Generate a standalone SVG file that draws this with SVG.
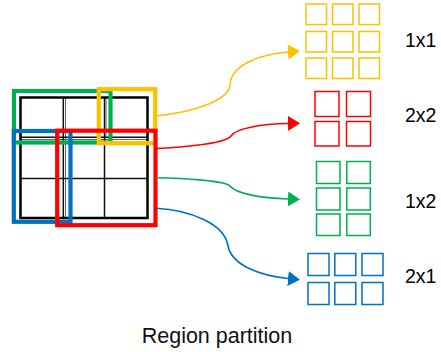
<svg xmlns="http://www.w3.org/2000/svg" width="441" height="352" viewBox="0 0 441 352">
  <style>
    .grid-outer { fill: none; stroke: #000; stroke-width: 2.5; }
    .grid-line { stroke: #111; stroke-width: 1.5; }
    .grid-ghost { stroke: #666; stroke-width: 1; }
    .win { fill: none; stroke-width: 4.2; }
    .cell { fill: #fff; stroke-width: 1.5; }
    .conn { fill: none; stroke-width: 1.6; }
    .label { font-family: "Liberation Sans", Arial, sans-serif; font-size: 19.5px; fill: #000; }
    .caption { font-family: "Liberation Sans", Arial, sans-serif; font-size: 21.5px; fill: #111; }
    .yellow { stroke: #FFC000; }
    .red { stroke: #FF0000; }
    .green { stroke: #00B050; }
    .blue { stroke: #0070C0; }
  </style>
  <defs>
    <marker id="ah-yellow" viewBox="0 0 12 15" refX="0" refY="7.5" markerUnits="userSpaceOnUse" markerWidth="12" markerHeight="15" orient="auto">
      <path d="M0,0 L12,7.5 L0,15 Z" fill="#FFC000"/>
    </marker>
    <marker id="ah-red" viewBox="0 0 12 15" refX="0" refY="7.5" markerUnits="userSpaceOnUse" markerWidth="12" markerHeight="15" orient="auto">
      <path d="M0,0 L12,7.5 L0,15 Z" fill="#FF0000"/>
    </marker>
    <marker id="ah-green" viewBox="0 0 12 15" refX="0" refY="7.5" markerUnits="userSpaceOnUse" markerWidth="12" markerHeight="15" orient="auto">
      <path d="M0,0 L12,7.5 L0,15 Z" fill="#00B050"/>
    </marker>
    <marker id="ah-blue" viewBox="0 0 12 15" refX="0" refY="7.5" markerUnits="userSpaceOnUse" markerWidth="12" markerHeight="15" orient="auto">
      <path d="M0,0 L12,7.5 L0,15 Z" fill="#0070C0"/>
    </marker>
  </defs>

  <!-- 3x3 feature map with the four pooling windows -->
  <g id="feature-map">
    <line class="grid-ghost" x1="65.5" y1="97" x2="65.5" y2="218"/>
    <line class="grid-ghost" x1="106" y1="97" x2="106" y2="137"/>
    <line class="grid-ghost" x1="20" y1="139.5" x2="148" y2="139.5"/>
    <line class="grid-line" x1="63.3" y1="97" x2="63.3" y2="218"/>
    <line class="grid-line" x1="104.5" y1="97" x2="104.5" y2="218"/>
    <line class="grid-line" x1="20" y1="137.3" x2="148" y2="137.3"/>
    <line class="grid-line" x1="20" y1="178.5" x2="148" y2="178.5"/>
    <rect class="grid-outer" x="20.5" y="97.5" width="127" height="120.5"/>
  </g>
  <g id="window-green">
    <rect class="win green" x="14" y="91" width="96.5" height="51.5"/>
  </g>
  <g id="window-yellow">
    <rect class="win yellow" x="98.8" y="89.2" width="56.4" height="54"/>
  </g>
  <g id="window-blue">
    <rect class="win blue" x="13.8" y="131" width="56.7" height="90.8"/>
  </g>
  <g id="window-red">
    <rect class="win red" x="57.2" y="130.7" width="98.3" height="94.5"/>
  </g>

  <!-- connectors -->
  <g id="connectors">
    <path class="conn yellow" d="M156,116 C195,112 230,100 230,84 C232,64 262,54 288,52" marker-end="url(#ah-yellow)"/>
    <path class="conn red" d="M157,148.5 C190,147 226,143 231,136 C236,128 262,124 288,123.5" marker-end="url(#ah-red)"/>
    <path class="conn green" d="M156,177.7 C185,178 226,181 230,186 C236,194 262,198 288,199" marker-end="url(#ah-green)"/>
    <path class="conn blue" d="M156,208.3 C190,210 225,224 228,246 C232,266 262,276 288,278.5" marker-end="url(#ah-blue)"/>
  </g>

  <!-- pooled outputs -->
  <g id="output-1x1">
    <rect class="cell yellow" x="306" y="4" width="20.5" height="20.5"/>
    <rect class="cell yellow" x="332.5" y="4" width="20.5" height="20.5"/>
    <rect class="cell yellow" x="359" y="4" width="20.5" height="20.5"/>
    <rect class="cell yellow" x="306" y="31.5" width="20.5" height="20.5"/>
    <rect class="cell yellow" x="332.5" y="31.5" width="20.5" height="20.5"/>
    <rect class="cell yellow" x="359" y="31.5" width="20.5" height="20.5"/>
    <rect class="cell yellow" x="306" y="58" width="20.5" height="20.5"/>
    <rect class="cell yellow" x="332.5" y="58" width="20.5" height="20.5"/>
    <rect class="cell yellow" x="359" y="58" width="20.5" height="20.5"/>
    <text class="label" x="405" y="46.7">1x1</text>
  </g>
  <g id="output-2x2">
    <rect class="cell red" x="315" y="91.5" width="24" height="25"/>
    <rect class="cell red" x="346.5" y="91.5" width="24" height="25"/>
    <rect class="cell red" x="315" y="121.5" width="24" height="24.5"/>
    <rect class="cell red" x="346.5" y="121.5" width="24" height="24.5"/>
    <text class="label" x="405" y="121.7">2x2</text>
  </g>
  <g id="output-1x2">
    <rect class="cell green" x="316.5" y="161.5" width="23.5" height="22"/>
    <rect class="cell green" x="346.8" y="161.5" width="23.5" height="22"/>
    <rect class="cell green" x="316.5" y="188" width="23.5" height="22"/>
    <rect class="cell green" x="346.8" y="188" width="23.5" height="22"/>
    <rect class="cell green" x="316.5" y="214" width="23.5" height="21.5"/>
    <rect class="cell green" x="346.8" y="214" width="23.5" height="21.5"/>
    <text class="label" x="405" y="208.3">1x2</text>
  </g>
  <g id="output-2x1">
    <rect class="cell blue" x="308" y="253.5" width="21" height="22"/>
    <rect class="cell blue" x="334.8" y="253.5" width="21" height="22"/>
    <rect class="cell blue" x="362" y="253.5" width="21" height="22"/>
    <rect class="cell blue" x="308" y="282.5" width="21" height="22"/>
    <rect class="cell blue" x="334.8" y="282.5" width="21" height="22"/>
    <rect class="cell blue" x="362" y="282.5" width="21" height="22"/>
    <text class="label" x="405" y="283.3">2x1</text>
  </g>

  <text class="caption" x="141.7" y="343.3">Region partition</text>
</svg>
